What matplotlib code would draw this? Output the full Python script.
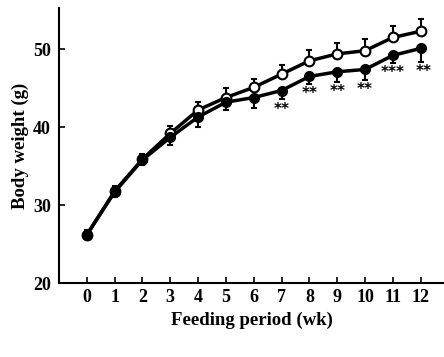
import matplotlib.pyplot as plt
import numpy as np

# Data
weeks = np.arange(0, 13)
control = [26.2, 31.8, 35.9, 39.2, 42.2, 43.8, 45.1, 46.8, 48.5, 49.4, 49.8, 51.5, 52.3]
control_err = [0.6, 0.6, 0.6, 0.9, 1.0, 1.2, 1.1, 1.15, 1.45, 1.45, 1.45, 1.45, 1.6]
treated = [26.2, 31.7, 35.8, 38.7, 41.3, 43.2, 43.8, 44.7, 46.5, 47.1, 47.4, 49.2, 50.1]
treated_err = [0.6, 0.6, 0.6, 1.05, 1.3, 1.05, 1.35, 1.15, 0.95, 1.3, 1.35, 1.0, 1.7]
stars = ["", "", "", "", "", "", "", "**", "**", "**", "**", "***", "**"]

plt.rcParams["font.family"] = ["Liberation Serif", "DejaVu Serif"]
plt.rcParams["font.weight"] = "bold"

fig = plt.figure(figsize=(4.44, 3.57), dpi=100)
ax = fig.add_axes([0.133, 0.207, 0.867, 0.771])

zeros = np.zeros(len(weeks))

# open circles (control), upper error bars only
ax.errorbar(weeks, control, yerr=[zeros, control_err], fmt="-o", color="black",
            mfc="white", mec="black", mew=1.5, ms=7, lw=2.5,
            elinewidth=1.5, capsize=2.5, capthick=1.5, zorder=2)
# filled circles (treated), lower error bars only
ax.errorbar(weeks, treated, yerr=[treated_err, zeros], fmt="-o", color="black",
            mfc="black", mec="black", ms=7, lw=2.5,
            elinewidth=1.5, capsize=2.5, capthick=1.5, zorder=3)

for x, y, e, s in zip(weeks, treated, treated_err, stars):
    if s:
        ax.annotate(s, (x, y - e), xytext=(2 if x == 12 else 0, -7),
                    textcoords="offset points", ha="center", va="center",
                    fontsize=11, fontweight="bold", family="DejaVu Sans")

ax.set_xlim(-1.0, 12.84)
ax.set_ylim(20, 55.3)
ax.set_xticks(weeks)
ax.set_yticks([20, 30, 40, 50])
ax.tick_params(direction="in", length=4, width=1.2, labelsize=13)
ax.tick_params(axis="x", pad=4)
ax.tick_params(axis="y", pad=6)
ax.spines["top"].set_visible(False)
ax.spines["right"].set_visible(False)
ax.spines["left"].set_linewidth(1.5)
ax.spines["bottom"].set_linewidth(1.5)

ax.set_xlabel("Feeding period (wk)", fontsize=13.5, fontweight="bold", labelpad=4)
ax.set_ylabel("Body weight (g)", fontsize=13.5, fontweight="bold", labelpad=3)

fig.savefig("out.png", dpi=100)
